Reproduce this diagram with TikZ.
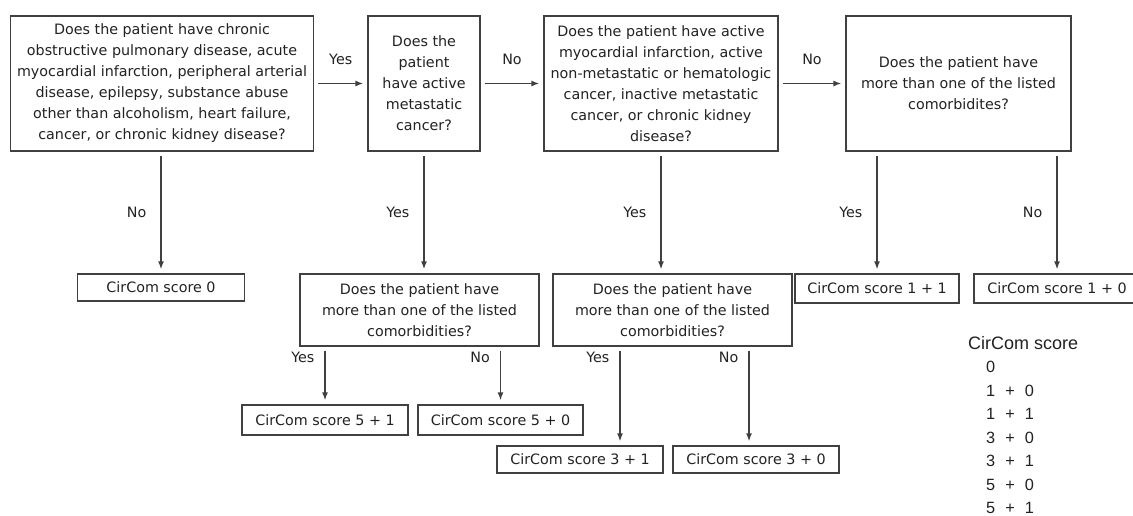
\documentclass[tikz,border=0pt]{standalone}
\usepackage{fontspec}
\setmainfont{DejaVu Sans}
\newfontfamily\lgdfont{Liberation Sans}
\usetikzlibrary{arrows.meta}
\definecolor{linegray}{HTML}{404040}
\definecolor{txtgray}{HTML}{222222}
\newcommand\lgdplus{\hspace{10pt}+\hspace{10pt}}

\begin{document}
\begin{tikzpicture}[x=1pt,y=-1pt,
            box/.style={draw=linegray,line width=1.3pt,inner sep=0pt,align=center,text=txtgray,
                font=\fontsize{14.3}{21}\selectfont},
            arr/.style={draw=linegray,line width=1.3pt,-{Latex[length=8pt,width=6pt]},
                shorten >=4pt,shorten <=4pt},
            lab/.style={text=txtgray,inner sep=0pt,font=\fontsize{14.3}{17}\selectfont}]
            \path[use as bounding box,fill=white] (0,0) rectangle (1133,515);
            % top row of questions
            \node[box,minimum width=303pt,minimum height=135pt] (qany) at (162,83.5)
                {Does the patient have chronic\\obstructive pulmonary disease, acute\\myocardial infarction, peripheral arterial\\disease, epilepsy, substance abuse\\other than alcoholism, heart failure,\\cancer, or chronic kidney disease?};
            \node[box,minimum width=112pt,minimum height=135pt] (qmeta) at (424,83.5)
                {Does the\\patient\\have active\\metastatic\\cancer?};
            \node[box,minimum width=234pt,minimum height=135pt] (qact) at (661,83.5)
                {Does the patient have active\\myocardial infarction, active\\non-metastatic or hematologic\\cancer, inactive metastatic\\cancer, or chronic kidney\\disease?};
            \node[box,minimum width=225pt,minimum height=135pt] (qmore) at (958.5,83.5)
                {Does the patient have\\more than one of the listed\\comorbidites?};
            % second row
            \node[box,minimum width=167pt,minimum height=27pt] (sc0) at (161,287.5) {CirCom score 0};
            \node[box,minimum width=239pt,minimum height=72pt] (qmetamore) at (419.5,310)
                {Does the patient have\\more than one of the listed\\comorbidities?};
            \node[box,minimum width=239pt,minimum height=72pt] (qactmore) at (672.5,310)
                {Does the patient have\\more than one of the listed\\comorbidities?};
            \node[box,minimum width=164pt,minimum height=29pt] (sc11) at (877,288.5) {CirCom score 1 + 1};
            \node[box,minimum width=166pt,minimum height=29pt] (sc10) at (1057,288.5) {CirCom score 1 + 0};
            % third row
            \node[box,minimum width=166pt,minimum height=30pt] (sc51) at (325,420) {CirCom score 5 + 1};
            \node[box,minimum width=165pt,minimum height=30pt] (sc50) at (500.5,420) {CirCom score 5 + 0};
            \node[box,minimum width=166pt,minimum height=27pt] (sc31) at (580,459.5) {CirCom score 3 + 1};
            \node[box,minimum width=166pt,minimum height=27pt] (sc30) at (756,459.5) {CirCom score 3 + 0};

            \draw[arr] (qany) -- node[lab,above=18pt] (y1) {Yes} (qmeta);
            \draw[arr] (qmeta) -- node[lab,above=18pt] (n1) {No} (qact);
            \draw[arr] (qact) -- node[lab,above=18pt] (n2) {No} (qmore);

            \draw[arr] (qany.south -| sc0.north) -- node[lab,left=14pt] (n3) {No} (sc0.north);
            \draw[arr] (qmeta.south) -- node[lab,left=14pt] (y2) {Yes} (qmeta.south |- qmetamore.north);
            \draw[arr] (qact.south) -- node[lab,left=14pt] (y3) {Yes} (qact.south |- qactmore.north);
            \draw[arr] (qmore.south -| sc11.north) -- node[lab,left=14pt] (y4) {Yes} (sc11.north);
            \draw[arr] (qmore.south -| sc10.north) -- node[lab,left=14pt] (n4) {No} (sc10.north);

            \draw[arr] (qmetamore.south -| sc51.north) -- node[lab,left=10pt,pos=0.19] (y5) {Yes} (sc51.north);
            \draw[arr] (qmetamore.south -| sc50.north) -- node[lab,left=10pt,pos=0.19] (n5) {No} (sc50.north);
            \coordinate (cy) at ([xshift=-52.5pt]qactmore.south);
            \coordinate (cn) at ([xshift=76.5pt]qactmore.south);
            \draw[arr] (cy) -- node[lab,left=10pt,pos=0.11] (y6) {Yes} (cy |- sc31.north);
            \draw[arr] (cn) -- node[lab,left=10pt,pos=0.11] (n6) {No} (cn |- sc30.north);

            % legend
            \node[anchor=west,inner sep=0pt,text=txtgray,font=\lgdfont\fontsize{18}{20}\selectfont] (lgd) at (968,343) {CirCom score};
            \foreach \val [count=\i] in {0,1\lgdplus 0,1\lgdplus 1,3\lgdplus 0,3\lgdplus 1,5\lgdplus 0,5\lgdplus 1}{
                \node[anchor=west,inner sep=0pt,text=txtgray,font=\lgdfont\fontsize{16.3}{18}\selectfont] (lgd\i) at (986,343.5+23.5*\i) {\val};
            }
        \end{tikzpicture}
\end{document}
